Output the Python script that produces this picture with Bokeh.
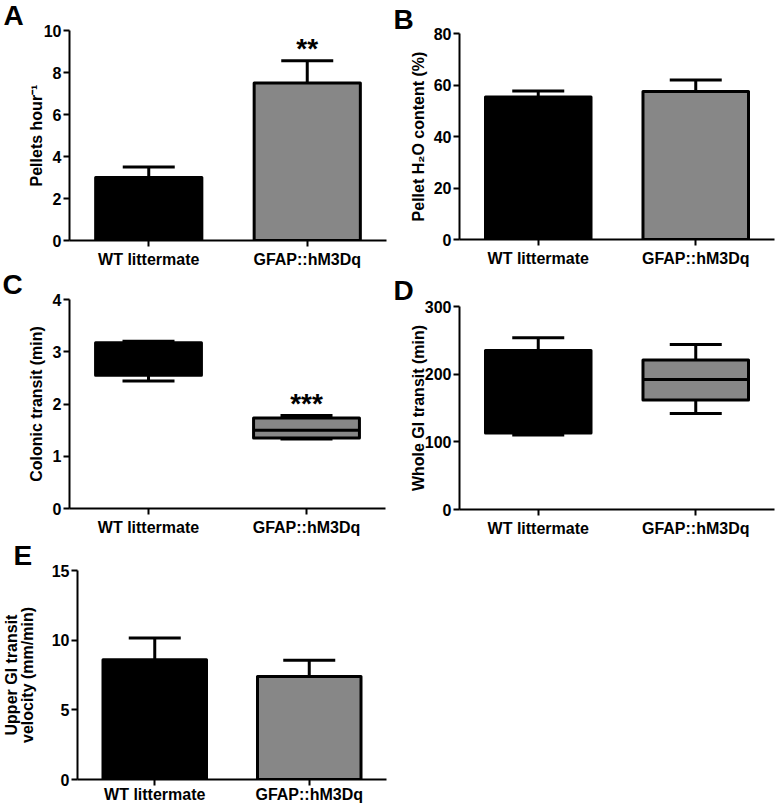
from bokeh.plotting import figure
from bokeh.models import FactorRange, Range1d, FixedTicker, Whisker, TeeHead, ColumnDataSource, Title
from bokeh.layouts import column, row
from bokeh.embed import file_html
from bokeh.resources import INLINE
from bokeh.core.properties import value
from bokeh.transform import dodge

# ---------------- data ----------------
groups = ["WT littermate", "GFAP::hM3Dq"]
group_colors = ["#000000", "#878787"]

# A: pellets per hour (mean, SEM)
pellets_mean = [3.0, 7.5]
pellets_sem = [0.5, 1.06]
pellets_sig = ["", "**"]

# B: pellet water content (%)
water_mean = [55.3, 57.5]
water_sem = [2.4, 4.4]

# C: colonic transit (min), box plot
colonic_min = [2.44, 1.33]
colonic_q1 = [2.55, 1.35]
colonic_median = [2.85, 1.50]
colonic_q3 = [3.17, 1.73]
colonic_max = [3.20, 1.78]
colonic_sig = ["", "***"]

# D: whole GI transit (min), box plot
whole_min = [110, 142]
whole_q1 = [113, 162]
whole_median = [180, 192]
whole_q3 = [235, 221]
whole_max = [254, 244]

# E: upper GI transit velocity (mm/min)
upper_mean = [8.6, 7.4]
upper_sem = [1.55, 1.15]

FONT = "Liberation Sans"
BAR_W = 0.67
CAP = 52


def make_fig(W, H, left, right, top, bottom, ymax, ticks, ylabel, letter, letter_x, letter_s,
             label_standoff=3, x_standoff=4, line_height=1.0):
    p = figure(width=W, height=H, x_range=FactorRange(factors=groups), y_range=Range1d(0, ymax),
               output_backend="svg", toolbar_location=None, tools="",
               min_border_left=left, min_border_right=right,
               min_border_top=top, min_border_bottom=bottom)
    p.frame_align = False
    p.outline_line_color = None
    p.xgrid.grid_line_color = None
    p.ygrid.grid_line_color = None
    p.background_fill_color = "white"
    p.border_fill_color = "white"
    p.yaxis.ticker = FixedTicker(ticks=ticks)
    for ax in (p.xaxis[0], p.yaxis[0]):
        ax.axis_line_width = 2
        ax.axis_line_color = "black"
        ax.major_tick_line_width = 2
        ax.major_tick_line_color = "black"
        ax.major_tick_out = 6
        ax.major_tick_in = 0
        ax.minor_tick_line_color = None
        ax.major_label_text_font = FONT
        ax.major_label_text_font_size = "16px"
        ax.major_label_text_font_style = "bold"
        ax.major_label_text_color = "black"
        ax.axis_label_text_font = FONT
        ax.axis_label_text_font_size = "16px"
        ax.axis_label_text_font_style = "bold"
        ax.axis_label_text_color = "black"
    p.xaxis.major_label_standoff = x_standoff
    p.yaxis.major_label_standoff = 2
    p.yaxis.axis_label = ylabel
    p.yaxis.axis_label_standoff = label_standoff
    p.yaxis.axis_label_text_line_height = line_height
    p.title = Title(text=letter, align="left", vertical_align="top", offset=letter_x - left,
                    standoff=letter_s, text_font=FONT, text_font_size="28px",
                    text_font_style="bold", text_color="black")
    return p


def add_bars(p, mean, sem, sig=None):
    src = ColumnDataSource(dict(cat=groups, mean=mean,
                                upper=[m + s for m, s in zip(mean, sem)],
                                color=group_colors,
                                sig=sig if sig else ["", ""]))
    p.add_layout(Whisker(source=src, base="cat", lower="mean", upper="upper", dimension="height",
                         line_width=3, line_color="black", level="annotation",
                         upper_head=TeeHead(size=CAP, line_width=3, line_color="black"),
                         lower_head=None))
    p.vbar(x="cat", top="mean", width=BAR_W, source=src, fill_color="color",
           line_color="black", line_width=3, line_join="round")
    if sig:
        p.text(x="cat", y="upper", text="sig", source=src, text_font=value(FONT),
               text_font_size="28px", text_font_style="bold", text_color="black",
               text_align="center", text_baseline="alphabetic", y_offset=-12)


def add_boxes(p, vmin, q1, med, q3, vmax, sig=None):
    src = ColumnDataSource(dict(cat=groups, vmin=vmin, q1=q1, med=med, q3=q3, vmax=vmax,
                                color=group_colors, sig=sig if sig else ["", ""]))
    p.add_layout(Whisker(source=src, base="cat", lower="q3", upper="vmax", dimension="height",
                         line_width=3, line_color="black", level="annotation",
                         upper_head=TeeHead(size=CAP, line_width=3, line_color="black"),
                         lower_head=None))
    p.add_layout(Whisker(source=src, base="cat", lower="vmin", upper="q1", dimension="height",
                         line_width=3, line_color="black", level="annotation",
                         lower_head=TeeHead(size=CAP, line_width=3, line_color="black"),
                         upper_head=None))
    p.vbar(x="cat", bottom="q1", top="q3", width=BAR_W, source=src, fill_color="color",
           line_color="black", line_width=3, line_join="round")
    p.segment(x0=dodge("cat", -BAR_W / 2, range=p.x_range), y0="med",
              x1=dodge("cat", BAR_W / 2, range=p.x_range), y1="med",
              source=src, line_color="black", line_width=3)
    if sig:
        p.text(x="cat", y="vmax", text="sig", source=src, text_font=value(FONT),
               text_font_size="28px", text_font_style="bold", text_color="black",
               text_align="center", text_baseline="alphabetic", y_offset=-12)


pA = make_fig(392, 270, 69, 6, 30, 30, 10, [0, 2, 4, 6, 8, 10], "Pellets hour\u207b\u00b9",
              "A", 3, -5, label_standoff=-4)
add_bars(pA, pellets_mean, pellets_sem, pellets_sig)

pB = make_fig(392, 270, 67, 10, 33, 31, 80, [0, 20, 40, 60, 80], "Pellet H\u2082O content (%)",
              "B", 1, -6, label_standoff=4)
add_bars(pB, water_mean, water_sem)

pC = make_fig(392, 270, 69, 7, 29, 32, 4, [0, 1, 2, 3, 4], "Colonic transit (min)",
              "C", 2, -4, label_standoff=5)
add_boxes(pC, colonic_min, colonic_q1, colonic_median, colonic_q3, colonic_max, colonic_sig)

pD = make_fig(392, 270, 67, 10, 36, 31, 300, [0, 100, 200, 300], "Whole GI transit (min)",
              "D", 1, -3, label_standoff=-5)
add_boxes(pD, whole_min, whole_q1, whole_median, whole_q3, whole_max)

pE = make_fig(392, 266, 69, 6, 30, 27, 15, [0, 5, 10, 15], "Upper GI transit\nvelocity (mm/min)",
              "E", 5, -5, label_standoff=13, x_standoff=0, line_height=0.9)
add_bars(pE, upper_mean, upper_sem)

layout = column(row(pA, pB), row(pC, pD), row(pE))

open("out.html", "w").write(file_html(layout, INLINE))
